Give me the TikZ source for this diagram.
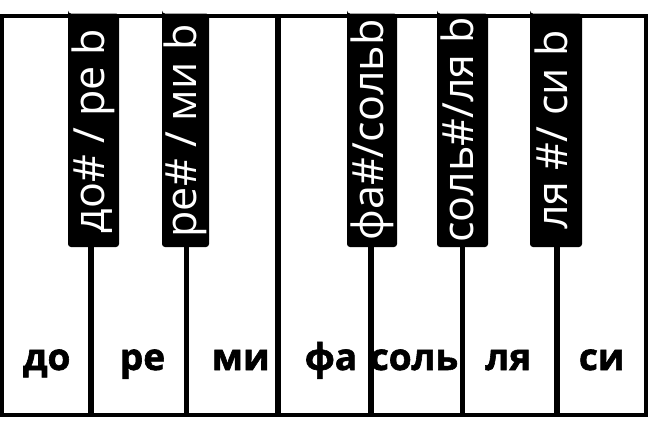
\documentclass[tikz,border=0pt]{standalone}
\usepackage{fontspec}
\newfontfamily\keyfont{Open Sans}
\newfontfamily\heavyfont{Open Sans}[BoldFeatures={FakeBold=1.6}]
\begin{document}
\begin{tikzpicture}[x=1pt,y=-1pt,
  frame/.style={draw=black,line width=4pt},
  sep/.style={draw=black,line width=5.5pt},
  blackkey/.style={fill=black,rounded corners=3pt},
  blabel/.style={text=white,rotate=90,anchor=base,inner sep=0pt,font=\keyfont\fontsize{43}{46}\selectfont},
  wlabel/.style={text=black,anchor=base,inner sep=0pt,font=\heavyfont\bfseries\fontsize{37}{40}\selectfont}]
\useasboundingbox (0,0) rectangle (649,432);
\fill[white] (0,0) rectangle (649,432);
% separators between white keys
\foreach \sx in {91,186.5,278,371,462.5,557}{
  \draw[sep] (\sx,15) -- (\sx,414.5);
}
% outer frame
\draw[frame] (1.8,15.5) rectangle (645.5,414.5);
% black keys
\fill[blackkey] (68,13.5) |- (119,247) |- cycle;
\fill[blackkey] (162,13.5) |- (209,247) |- cycle;
\fill[blackkey] (347,13.5) |- (397,247) |- cycle;
\fill[blackkey] (437,13.5) |- (488,247) |- cycle;
\fill[blackkey] (530,13.5) |- (582,247) |- cycle;
% black key labels
\node[blabel] (b1) at (104.5,131) {до\# / ре b};
\node[blabel] (b2) at (196.5,131) {ре\# / ми b};
\node[blabel] (b3) at (383,130) {фа\#/сольb};
\node[blabel] (b4) at (473.5,130) {соль\#/ля b};
\node[blabel] (b5) at (567,130) {ля \#/ си b};
% white key labels
\node[wlabel] (w1) at (46.7,370) {до};
\node[wlabel] (w2) at (142.5,370) {ре};
\node[wlabel] (w3) at (240.8,370) {ми};
\node[wlabel] (w4) at (331,370) {фа};
\node[wlabel] (w5) at (414,370) {соль};
\node[wlabel] (w6) at (508.3,370) {ля};
\node[wlabel] (w7) at (601.7,370) {си};
\end{tikzpicture}
\end{document}
